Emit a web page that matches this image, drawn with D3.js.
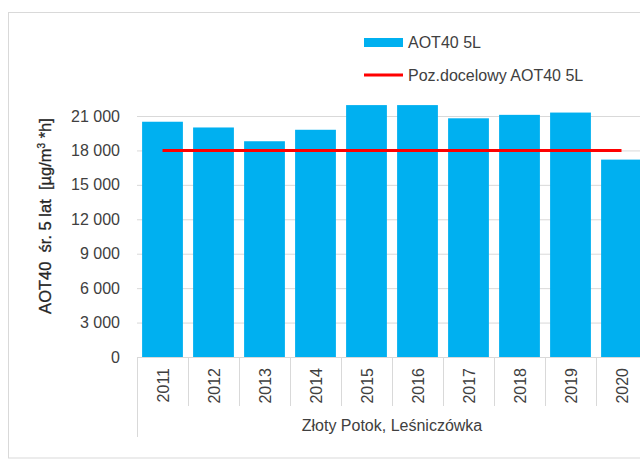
<!DOCTYPE html>
<html>
<head>
<meta charset="utf-8">
<script src="https://cdn.jsdelivr.net/npm/d3@7"></script>
<style>
  body { margin: 0; background: #fff; }
  svg text { font-family: "Liberation Sans", Arial, sans-serif; fill: #404040; }
</style>
</head>
<body>
<svg id="chart" width="640" height="466"></svg>
<script>
// data
var years = ["2011","2012","2013","2014","2015","2016","2017","2018","2019","2020"];
var aot40 = [20500, 20000, 18800, 19800, 21950, 21950, 20800, 21100, 21300, 17200];
var target = [18000, 18000, 18000, 18000, 18000, 18000, 18000, 18000, 18000, 18000];
var yTicks = [0, 3000, 6000, 9000, 12000, 15000, 18000, 21000];
var stationName = "Złoty Potok, Leśniczówka";
var seriesNames = ["AOT40 5L", "Poz.docelowy AOT40 5L"];

var svg = d3.select("#chart");

// chart area border (cut off on right like the original)
svg.append("rect")
  .attr("x", 8.5).attr("y", 12.5)
  .attr("width", 700).attr("height", 445.5)
  .attr("fill", "none")
  .attr("stroke", "#d9d9d9");

var plotL = 137, plotR = 647, plotT = 116, plotB = 357;

var x = d3.scaleBand()
  .domain(years)
  .range([plotL, plotR])
  .paddingInner(0.2)
  .paddingOuter(0.1);

var xc = d3.scaleBand().domain(years).range([plotL, plotR]); // whole categories

var y = d3.scaleLinear()
  .domain([0, 21000])
  .range([plotB, plotT]);

var fmt = function(d) { return d3.format(",")(d).replace(/,/g, " "); };

// gridlines
svg.append("g")
  .attr("class", "grid")
  .attr("transform", "translate(" + plotL + ",0)")
  .call(d3.axisLeft(y).tickValues(yTicks).tickSize(-(plotR - plotL)).tickFormat(""))
  .call(function(g) { g.select(".domain").remove(); })
  .selectAll("line")
    .attr("stroke", "#d9d9d9");

// y axis labels
svg.append("g")
  .attr("transform", "translate(" + (plotL - 17) + ",0)")
  .call(d3.axisLeft(y).tickValues(yTicks).tickSize(0).tickFormat(fmt))
  .call(function(g) { g.select(".domain").remove(); })
  .selectAll("text")
    .attr("x", 0)
    .style("font-size", "16px")
    .style("font-family", "'Liberation Sans', Arial, sans-serif")
    .style("fill", "#404040");

// bars
svg.selectAll(".bar")
  .data(years)
  .enter().append("rect")
    .attr("class", "bar")
    .attr("x", function(d) { return x(d); })
    .attr("y", function(d, i) { return y(aot40[i]); })
    .attr("width", x.bandwidth())
    .attr("height", function(d, i) { return plotB - y(aot40[i]); })
    .attr("fill", "#00b0f0");

// x axis line + category separators
svg.append("line")
  .attr("x1", plotL).attr("x2", plotR)
  .attr("y1", plotB + 0.5).attr("y2", plotB + 0.5)
  .attr("stroke", "#d9d9d9");

svg.selectAll(".sep")
  .data(years)
  .enter().append("line")
    .attr("class", "sep")
    .attr("x1", function(d) { return Math.round(xc(d)) + 0.5; })
    .attr("x2", function(d) { return Math.round(xc(d)) + 0.5; })
    .attr("y1", plotB)
    .attr("y2", function(d, i) { return i == 0 ? 437 : 406; })
    .attr("stroke", "#d9d9d9");

// year labels
svg.selectAll(".yr")
  .data(years)
  .enter().append("text")
    .attr("class", "yr")
    .attr("transform", function(d) {
      return "translate(" + (xc(d) + xc.bandwidth() / 2 + 6) + ",368) rotate(-90)";
    })
    .attr("text-anchor", "end")
    .style("font-size", "16px")
    .text(function(d) { return d; });

svg.append("text")
  .attr("x", (plotL + plotR) / 2)
  .attr("y", 431)
  .attr("text-anchor", "middle")
  .style("font-size", "16px")
  .text(stationName);

// target line
var line = d3.line()
  .x(function(d, i) { return xc(years[i]) + xc.bandwidth() / 2; })
  .y(function(d) { return y(d); });

svg.append("path")
  .datum(target)
  .attr("d", line)
  .attr("fill", "none")
  .attr("stroke", "#ff0000")
  .attr("stroke-width", 3);

// y axis title (non-breaking spaces keep the wide gaps)
var yt = svg.append("text")
  .attr("transform", "translate(51,216) rotate(-90)")
  .attr("text-anchor", "middle")
  .style("font-size", "16.5px")
  .style("fill", "#262626")
  .style("stroke", "#262626")
  .style("stroke-width", 0.3);
yt.append("tspan").text("AOT40\u00a0\u00a0śr.\u00a05\u00a0lat\u00a0\u00a0[µg/m");
yt.append("tspan").attr("dy", -6).style("font-size", "10px").text("3");
yt.append("tspan").attr("dy", 6).text("\u00a0*h]");

// legend
var lg = svg.append("g").attr("transform", "translate(364,0)");
lg.append("rect")
  .attr("x", 0).attr("y", 38)
  .attr("width", 39).attr("height", 9)
  .attr("fill", "#00b0f0");
lg.append("text")
  .attr("x", 44).attr("y", 48)
  .style("font-size", "16px")
  .text(seriesNames[0]);
lg.append("line")
  .attr("x1", 0).attr("x2", 39)
  .attr("y1", 75).attr("y2", 75)
  .attr("stroke", "#ff0000")
  .attr("stroke-width", 3);
lg.append("text")
  .attr("x", 44).attr("y", 81)
  .style("font-size", "16px")
  .text(seriesNames[1]);
</script>
</body>
</html>
